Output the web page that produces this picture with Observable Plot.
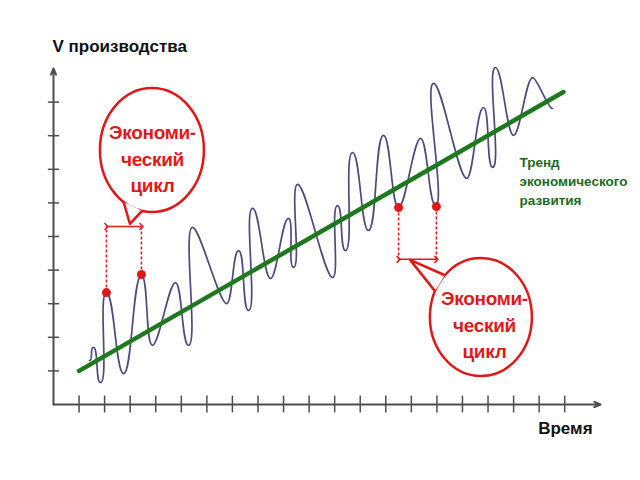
<!DOCTYPE html>
<html><head><meta charset="utf-8">
<script src="https://cdn.jsdelivr.net/npm/d3@7"></script>
<script src="https://cdn.jsdelivr.net/npm/@observablehq/plot@0.6"></script>
<style>body{margin:0;background:#fff} svg{display:block}</style>
</head><body><div id="chart"></div>
<script>
// Wave of production volume (in axis tick units)
const waveX = [1.41,1.56,1.84,2.07,2.74,3.44,3.87,4.77,5.28,5.44,6.77,7.24,7.63,7.79,8.49,9.19,9.39,9.55,10.92,11.11,11.42,11.70,12.32,12.91,13.50,14.36,14.95,14.87,16.16,16.82,17.18,17.29,18.00,18.74,19.52];
const waveY = [1.31,1.70,0.65,3.33,0.92,3.84,1.76,3.63,1.76,5.27,3.00,4.58,2.80,5.84,3.75,5.54,4.08,6.55,3.78,5.92,4.58,7.50,5.18,8.01,5.86,7.92,5.92,9.56,6.73,8.84,7.06,10.03,8.01,9.73,8.81];
// Trend line
const trendX = [1.0, 19.95];
const trendY = [1.0, 9.3];
// Axis ticks
const xTicks = [1,2,3,4,5,6,7,8,9,10,11,12,13,14,15,16,17,18,19,20];
const yTicks = [1,2,3,4,5,6,7,8,9];
// Cycle markers: start/end points of each annotated cycle
const cycleX1 = [2.07, 13.50];
const cycleY1 = [3.33, 5.86];
const cycleX2 = [3.44, 14.98];
const cycleY2 = [3.87, 5.89];
const cycleSpanY = [5.30, 4.32];
// Callout bubbles
const bubbleCX = [3.87, 16.74];
const bubbleCY = [7.56, 2.59];
const bubbleTipX = [3.01, 13.97];
const bubbleTipY = [5.36, 4.29];
const bubbleLabel = ["Экономи-\nческий\nцикл", "Экономи-\nческий\nцикл"];
const bubbleLabelX = [3.87, 16.86];
const bubbleLabelY = [7.36, 2.42];
// Texts
const trendLabel = "Тренд\nэкономического\nразвития";
const trendLabelX = 18.23, trendLabelY = 6.68;
const yTitle = "V производства", yTitleX = -0.04, yTitleY = 10.66;
const xTitle = "Время", xTitleX = 21.09, xTitleY = -0.71;

const RED = "#e01818", GREEN = "#1e781e", AX = "#4d4d4d";
const wave = waveX.map((x, i) => ({x, y: waveY[i]}));
const trend = trendX.map((x, i) => ({x, y: trendY[i]}));
const cycles = cycleX1.map((x, i) => ({x1: x, y1: cycleY1[i], x2: cycleX2[i], y2: cycleY2[i], s: cycleSpanY[i]}));
const dots = cycles.flatMap(c => [{x: c.x1, y: c.y1, s: c.s}, {x: c.x2, y: c.y2, s: c.s}]);
const labels = bubbleLabel.map((t, i) => ({t, x: bubbleLabelX[i], y: bubbleLabelY[i]}));

// Curve style: rounded, forward-moving tips at every turning point (like a hand-drawn wave)
function roundTips(context) {
  let pts;
  return {
    areaStart() {}, areaEnd() {},
    lineStart() { pts = []; },
    point(x, y) { pts.push([+x, +y]); },
    lineEnd() {
      if (!pts.length) return;
      context.moveTo(pts[0][0], pts[0][1]);
      for (let i = 1; i < pts.length; i++) {
        const [x0, y0] = pts[i - 1], [x1, y1] = pts[i];
        const h = 3 + 0.06 * Math.abs(y1 - y0);
        context.bezierCurveTo(x0 + h, y0, x1 - h, y1, x1, y1);
      }
    }
  };
}

const plot = Plot.plot({
  width: 640, height: 480,
  marginLeft: 53, marginRight: 40, marginTop: 68, marginBottom: 76,
  x: {domain: [0, 21.4], axis: null},
  y: {domain: [0, 10], axis: null},
  style: {fontFamily: "'Liberation Sans', Arial, sans-serif", background: "white", overflow: "visible"},
  marks: [
    Plot.ruleX(xTicks, {x: d => d, y1: () => -0.25, y2: () => 0.25, stroke: AX, strokeWidth: 1.5}),
    Plot.ruleY(yTicks, {y: d => d, x1: () => -0.2, x2: () => 0.24, stroke: AX, strokeWidth: 1.5}),
    Plot.arrow([0], {x1: () => 0, y1: () => 0, x2: () => 0, y2: () => 10, stroke: AX, strokeWidth: 2, headLength: 5, headAngle: 45}),
    Plot.arrow([0], {x1: () => 0, y1: () => 0, x2: () => 21.4, y2: () => 0, stroke: AX, strokeWidth: 2, headLength: 5, headAngle: 45}),
    Plot.line(wave, {x: "x", y: "y", curve: roundTips, stroke: "#4b4b80", strokeWidth: 1.7}),
    Plot.line(trend, {x: "x", y: "y", stroke: GREEN, strokeWidth: 4.5}),
    Plot.link(dots, {x1: "x", x2: "x", y1: "y", y2: "s", stroke: RED, strokeWidth: 1.5, strokeDasharray: "3,2"}),
    Plot.link(cycles, {x1: "x1", x2: "x2", y1: "s", y2: "s", stroke: RED, strokeWidth: 1.5, markerStart: "arrow", markerEnd: "arrow"}),
    Plot.dot(dots, {x: "x", y: "y", r: 4.5, fill: RED}),
    Plot.text(labels, {x: "x", y: "y", text: "t", fill: RED, fontSize: 19, fontWeight: "bold", lineHeight: 1.38}),
    Plot.text([trendLabel], {x: () => trendLabelX, y: () => trendLabelY, text: d => d, fill: "#1d6a1d", fontSize: 13.5, fontWeight: "bold", textAnchor: "start", lineHeight: 1.42}),
    Plot.text([yTitle], {x: () => yTitleX, y: () => yTitleY, text: d => d, fill: "#111", fontSize: 17, fontWeight: "bold", textAnchor: "start"}),
    Plot.text([xTitle], {x: () => xTitleX, y: () => xTitleY, text: d => d, fill: "#111", fontSize: 17, fontWeight: "bold", textAnchor: "end"})
  ]
});

// Speech-bubble outlines drawn through the plot's scales
const sx = plot.scale("x"), sy = plot.scale("y");
const X = v => sx.apply(v), Y = v => sy.apply(v);
const bubbleShape = [{rx: 52, ry: 62, a1: 101, a2: 123}, {rx: 51, ry: 59, a1: 206, a2: 225}];
const svg = d3.select(plot);
const g = svg.append("g").attr("fill", "none").attr("stroke", RED).attr("stroke-width", 2.5).attr("stroke-linejoin", "round");
bubbleCX.forEach((bx, i) => {
  const cx = X(bx), cy = Y(bubbleCY[i]);
  const {rx, ry, a1, a2} = bubbleShape[i];
  g.append("ellipse").attr("cx", cx).attr("cy", cy).attr("rx", rx).attr("ry", ry);
  const pt = a => [cx + rx * Math.cos(a * Math.PI / 180), cy + ry * Math.sin(a * Math.PI / 180)];
  const A = pt(a1), B = pt(a2);
  g.append("path").attr("fill", "white")
    .attr("d", `M${A}L${X(bubbleTipX[i])},${Y(bubbleTipY[i])}L${B}`);
});
svg.selectAll("g[aria-label=text]").raise();
svg.selectAll("g[aria-label=text] text").filter(function() { return this.textContent.startsWith("Экономи"); }).style("letter-spacing", "-0.3px");
document.getElementById("chart").appendChild(plot);
</script>
</body></html>
